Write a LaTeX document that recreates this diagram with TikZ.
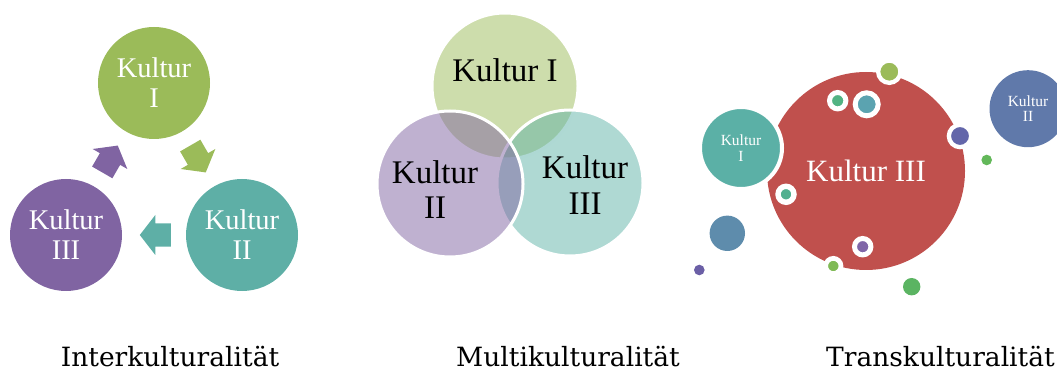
\documentclass[tikz,border=0pt]{standalone}
\usepackage{fontspec}
\setmainfont{Liberation Serif}
\newfontfamily\labelfont{DejaVu Serif}
\definecolor{cGreen}{HTML}{9BBB59}
\definecolor{cTeal}{HTML}{5EAFA6}
\definecolor{cPurple}{HTML}{8064A2}
\definecolor{vGreen}{HTML}{9BBB59}
\definecolor{vTeal}{HTML}{5FB3A8}
\definecolor{vPurple}{HTML}{8064A2}
\definecolor{cRed}{HTML}{C0504D}
\definecolor{cBlue}{HTML}{6079AA}
\definecolor{rTeal}{HTML}{5BB0A6}
\definecolor{dA}{HTML}{9BBB59}
\definecolor{dB}{HTML}{52B383}
\definecolor{dC}{HTML}{5BA3B0}
\definecolor{dD}{HTML}{6366AA}
\definecolor{dE}{HTML}{63B85A}
\definecolor{dF}{HTML}{52B090}
\definecolor{dG}{HTML}{5E8CAC}
\definecolor{dH}{HTML}{6B5FA6}
\definecolor{dI}{HTML}{7F66A8}
\definecolor{dJ}{HTML}{80BA56}
\definecolor{dK}{HTML}{5BB462}
\tikzset{
  blockarrow/.pic={\fill (-15.5,-11.7) -- (0,-11.7) -- (0,-20) -- (15.5,0) -- (0,20) -- (0,11.7) -- (-15.5,11.7) -- cycle;},
  cyclecirc/.style={circle, inner sep=0pt, minimum size=112pt, text=white, align=center,
    font=\fontsize{28.5}{30}\selectfont},
  venncirc/.style={circle, inner sep=0pt, minimum size=146pt, draw=white, line width=3pt, fill opacity=0.5},
  venntext/.style={inner sep=0pt, align=center, text=black, font=\fontsize{33}{35}\selectfont},
  ringdot/.style={circle, inner sep=0pt, draw=white},
  plaindot/.style={circle, inner sep=0pt},
  smalltext/.style={align=center, text=white, font=\fontsize{15.5}{16}\selectfont},
  caption/.style={inner sep=0pt, font=\labelfont\fontsize{26.5}{30}\selectfont},
}
\begin{document}
\begin{tikzpicture}[x=1pt,y=-1pt]
\useasboundingbox (0,0) rectangle (1057,371);
% ---------- Interkulturalitaet ----------
\node[cyclecirc, fill=cGreen] (iI) at (154,83) {Kultur\\I};
\node[cyclecirc, fill=cTeal] (iII) at (242,235) {Kultur\\II};
\node[cyclecirc, fill=cPurple] (iIII) at (66,235) {Kultur\\III};
\pic[color=cGreen, rotate=-60] at (198,159) {blockarrow};
\pic[color=cTeal, rotate=180] at (155.3,235) {blockarrow};
\pic[color=cPurple, rotate=60] at (110,159) {blockarrow};
% ---------- Multikulturalitaet ----------
\node[venncirc, fill=vGreen] (mI) at (505,86) {};
\node[venncirc, fill=vTeal] (mIII) at (570,183) {};
\node[venncirc, fill=vPurple] (mII) at (450,184) {};
\node[venntext, anchor=base] (tI) at (505,82) {Kultur I};
\node[venntext] (tII) at (435,189.2) {Kultur\\II};
\node[venntext, font=\fontsize{33}{36.5}\selectfont] (tIII) at (585,185.2) {Kultur\\III};
% ---------- Transkulturalitaet ----------
\node[circle, inner sep=0pt, minimum size=198pt, fill=cRed, text=white,
  font=\fontsize{31}{33}\selectfont] (rIII) at (866,171) {Kultur III};
\node[circle, inner sep=0pt, minimum size=82pt, fill=rTeal, draw=white, line width=4pt,
  smalltext] (rI) at (741,148) {Kultur\\I};
\node[circle, inner sep=0pt, minimum size=77pt, fill=cBlue, smalltext,
  font=\fontsize{15.5}{15}\selectfont] (rII) at (1028,108.7) {Kultur\\II};
\node[ringdot, fill=dA, minimum size=22.3pt, line width=4.3pt] (d1) at (889.3,71.7) {};
\node[ringdot, fill=dB, minimum size=16.4pt, line width=5pt] (d2) at (837.7,100.7) {};
\node[ringdot, fill=dC, minimum size=23pt, line width=5pt] (d3) at (866.7,104.3) {};
\node[ringdot, fill=dD, minimum size=22.3pt, line width=4.3pt] (d4) at (960,136) {};
\node[plaindot, fill=dE, minimum size=10.6pt] (d5) at (986.7,160) {};
\node[ringdot, fill=dF, minimum size=16pt, line width=5.4pt] (d6) at (786,194.3) {};
\node[plaindot, fill=dG, minimum size=35.4pt] (d7) at (727.3,233.3) {};
\node[plaindot, fill=dH, minimum size=10.6pt] (d8) at (699.3,270) {};
\node[ringdot, fill=dI, minimum size=16.4pt, line width=5pt] (d9) at (862.7,246.7) {};
\node[ringdot, fill=dJ, minimum size=15.3pt, line width=4.7pt] (d10) at (833.3,266) {};
\node[plaindot, fill=dK, minimum size=17.4pt] (d11) at (911.7,286.7) {};
% ---------- captions ----------
\node[caption, anchor=base] (l1) at (170,366.7) {Interkulturalität};
\node[caption, anchor=base] (l2) at (568,366.7) {Multikulturalität};
\node[caption, anchor=base east] (l3) at (1055,366.7) {Transkulturalität};
\end{tikzpicture}
\end{document}
